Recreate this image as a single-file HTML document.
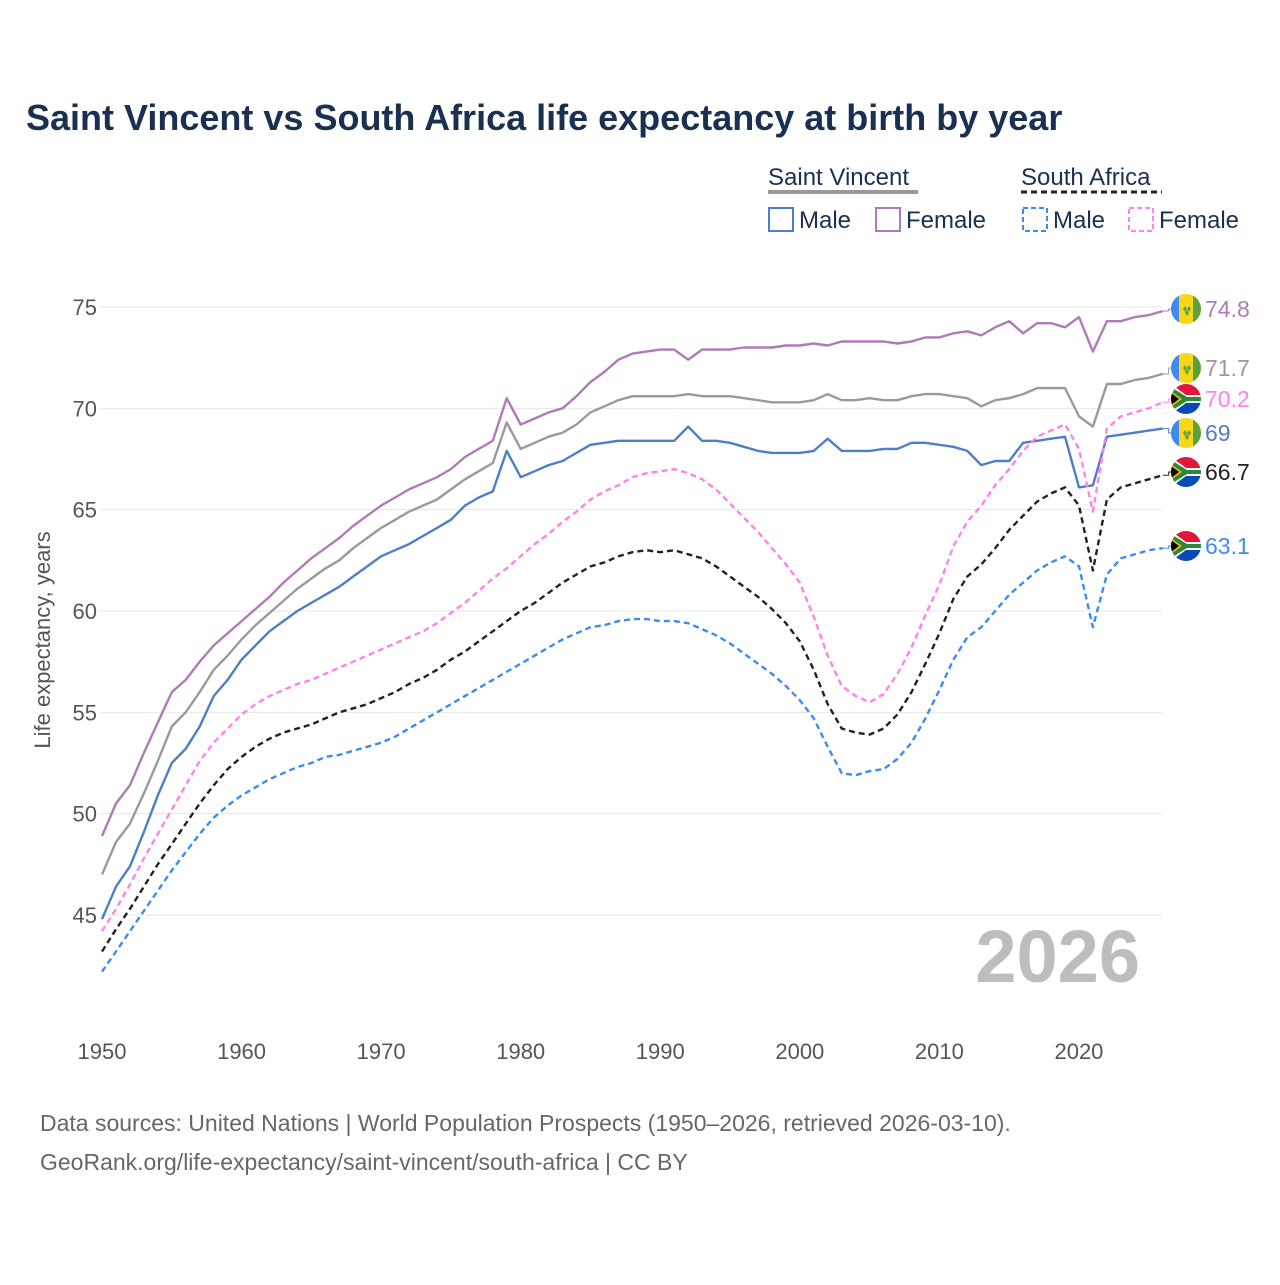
<!DOCTYPE html>
<html><head><meta charset="utf-8"><style>
body{margin:0;background:#fff;}
svg text{font-family:"Liberation Sans",sans-serif;}
</style></head><body>
<svg id="chart" width="1280" height="1280" viewBox="0 0 1280 1280" xmlns="http://www.w3.org/2000/svg">
<defs>
<clipPath id="fc"><circle cx="0" cy="0" r="15"/></clipPath>
<g id="flag-vc">
<g clip-path="url(#fc)"><rect x="-15" y="-15" width="30" height="30" fill="#f9d616"/><rect x="-15" y="-15" width="8" height="30" fill="#3c8cf0"/><rect x="7" y="-15" width="8" height="30" fill="#5aa33c"/><path d="M-3 0 l2-3 2 3-2 3z M1 0 l2-3 2 3-2 3z M-1 4 l2-3 2 3-2 3z" fill="#5aa33c"/></g>
</g>
<g id="flag-za">
<g clip-path="url(#fc)"><rect x="-15" y="-15" width="30" height="15" fill="#e0183c"/><rect x="-15" y="0" width="30" height="15" fill="#0a4ab4"/><path d="M-15 -15 L0 -4 H15 V4 H0 L-15 15Z" fill="#fff"/><path d="M-15 -12 L1 -2 H15 V2 H1 L-15 12Z" fill="#2a8a3a"/><path d="M-15 -8 L-4 0 L-15 8Z" fill="#f2b61a"/><path d="M-15 -6 L-7 0 L-15 6Z" fill="#000"/></g>
</g>
</defs>
<text x="26" y="130" font-size="36" font-weight="bold" fill="#1a3050">Saint Vincent vs South Africa life expectancy at birth by year</text>
<g font-size="24" fill="#1a3050">
<text x="768" y="185" fill="#1a3050">Saint Vincent</text>
<line x1="768" y1="192" x2="918" y2="192" stroke="#999" stroke-width="4"/>
<text x="1021" y="185" fill="#1a3050">South Africa</text>
<line x1="1021" y1="192" x2="1162" y2="192" stroke="#222" stroke-width="3" stroke-dasharray="6,4"/>
<g><rect x="769" y="208" width="24" height="23" fill="none" stroke="#4f7ec8" stroke-width="2"/><text x="799" y="228" fill="#1a3050">Male</text></g>
<g><rect x="876" y="208" width="24" height="23" fill="none" stroke="#b07ab8" stroke-width="2"/><text x="906" y="228" fill="#1a3050">Female</text></g>
<g><rect x="1023" y="208" width="24" height="23" fill="none" stroke="#3c8cf0" stroke-width="2" stroke-dasharray="5,3"/><text x="1053" y="228" fill="#1a3050">Male</text></g>
<g><rect x="1129" y="208" width="24" height="23" fill="none" stroke="#ff80f0" stroke-width="2" stroke-dasharray="5,3"/><text x="1159" y="228" fill="#1a3050">Female</text></g>
</g>
<g id="grid"></g>
<g id="axes"></g>
<text transform="translate(50,640) rotate(-90)" text-anchor="middle" font-size="22" fill="#555">Life expectancy, years</text>
<text x="1140" y="982" text-anchor="end" font-size="74" font-weight="bold" fill="#bdbdbd">2026</text>
<g id="series"></g>
<g id="labels"></g>
<text x="40" y="1131" font-size="23" fill="#666">Data sources: United Nations | World Population Prospects (1950–2026, retrieved 2026-03-10).</text>
<text x="40" y="1170" font-size="23" fill="#666">GeoRank.org/life-expectancy/saint-vincent/south-africa | CC BY</text>
</svg>
<script>
const startYear = 1950;
const xTicks = [1950,1960,1970,1980,1990,2000,2010,2020];
const yTicks = [45,50,55,60,65,70,75];
const svFemale = [48.9,50.5,51.4,53.0,54.5,56.0,56.6,57.5,58.3,58.9,59.5,60.1,60.7,61.4,62.0,62.6,63.1,63.6,64.2,64.7,65.2,65.6,66.0,66.3,66.6,67.0,67.6,68.0,68.4,70.5,69.2,69.5,69.8,70.0,70.6,71.3,71.8,72.4,72.7,72.8,72.9,72.9,72.4,72.9,72.9,72.9,73.0,73.0,73.0,73.1,73.1,73.2,73.1,73.3,73.3,73.3,73.3,73.2,73.3,73.5,73.5,73.7,73.8,73.6,74.0,74.3,73.7,74.2,74.2,74.0,74.5,72.8,74.3,74.3,74.5,74.6,74.8];
const svTotal = [47.0,48.6,49.5,51.0,52.6,54.3,55.0,56.0,57.1,57.8,58.6,59.3,59.9,60.5,61.1,61.6,62.1,62.5,63.1,63.6,64.1,64.5,64.9,65.2,65.5,66.0,66.5,66.9,67.3,69.3,68.0,68.3,68.6,68.8,69.2,69.8,70.1,70.4,70.6,70.6,70.6,70.6,70.7,70.6,70.6,70.6,70.5,70.4,70.3,70.3,70.3,70.4,70.7,70.4,70.4,70.5,70.4,70.4,70.6,70.7,70.7,70.6,70.5,70.1,70.4,70.5,70.7,71.0,71.0,71.0,69.6,69.1,71.2,71.2,71.4,71.5,71.7];
const svMale = [44.8,46.4,47.4,49.1,50.9,52.5,53.2,54.3,55.8,56.6,57.6,58.3,59.0,59.5,60.0,60.4,60.8,61.2,61.7,62.2,62.7,63.0,63.3,63.7,64.1,64.5,65.2,65.6,65.9,67.9,66.6,66.9,67.2,67.4,67.8,68.2,68.3,68.4,68.4,68.4,68.4,68.4,69.1,68.4,68.4,68.3,68.1,67.9,67.8,67.8,67.8,67.9,68.5,67.9,67.9,67.9,68.0,68.0,68.3,68.3,68.2,68.1,67.9,67.2,67.4,67.4,68.3,68.4,68.5,68.6,66.1,66.2,68.6,68.7,68.8,68.9,69.0];
const zaFemale = [44.2,45.3,46.5,47.8,49.0,50.2,51.4,52.6,53.5,54.2,54.9,55.4,55.8,56.1,56.4,56.6,56.9,57.2,57.5,57.8,58.1,58.4,58.7,59.0,59.4,59.9,60.4,61.0,61.6,62.1,62.7,63.3,63.8,64.4,64.9,65.5,65.9,66.2,66.6,66.8,66.9,67.0,66.8,66.5,66.0,65.3,64.6,63.9,63.1,62.3,61.4,59.7,57.8,56.3,55.8,55.5,55.9,56.9,58.2,59.8,61.3,63.2,64.4,65.2,66.2,67.0,67.9,68.6,68.9,69.2,68.0,64.9,69.0,69.6,69.8,70.0,70.3];
const zaTotal = [43.2,44.3,45.3,46.4,47.5,48.5,49.5,50.5,51.4,52.2,52.8,53.3,53.7,54.0,54.2,54.4,54.7,55.0,55.2,55.4,55.7,56.0,56.4,56.7,57.1,57.6,58.0,58.5,59.0,59.5,60.0,60.4,60.9,61.4,61.8,62.2,62.4,62.7,62.9,63.0,62.9,63.0,62.8,62.6,62.2,61.7,61.2,60.7,60.1,59.4,58.5,57.1,55.4,54.2,54.0,53.9,54.2,54.9,56.0,57.4,58.9,60.6,61.7,62.3,63.1,64.0,64.7,65.4,65.8,66.1,65.2,62.0,65.5,66.1,66.3,66.5,66.7];
const zaMale = [42.2,43.2,44.2,45.2,46.2,47.2,48.1,49.0,49.8,50.4,50.9,51.3,51.7,52.0,52.3,52.5,52.8,52.9,53.1,53.3,53.5,53.8,54.2,54.6,55.0,55.4,55.8,56.2,56.6,57.0,57.4,57.8,58.2,58.6,58.9,59.2,59.3,59.5,59.6,59.6,59.5,59.5,59.4,59.1,58.8,58.4,57.9,57.4,56.9,56.3,55.6,54.7,53.3,52.0,51.9,52.1,52.2,52.7,53.5,54.7,56.1,57.6,58.7,59.2,60.0,60.8,61.4,62.0,62.4,62.7,62.2,59.2,61.8,62.6,62.8,63.0,63.1];
const endLabels = ["74.8","71.7","69","70.2","66.7","63.1"];

const NS="http://www.w3.org/2000/svg";
const x = yr => 102 + (yr-1950)*(1060.7/76);
const y = v => 307 + (75-v)*(608/30);
function mk(tag, attrs, parent){const e=document.createElementNS(NS,tag);for(const k in attrs)e.setAttribute(k,attrs[k]);parent.appendChild(e);return e;}
const grid=document.getElementById('grid'), axes=document.getElementById('axes');
yTicks.forEach(t=>{
  const l=mk('line',{x1:100,x2:1162,y1:y(t),y2:y(t),stroke:'#e6e6e6','stroke-width':1},grid);
  
  
  const tx=mk('text',{x:97,y:y(t)+8,'text-anchor':'end','font-size':22,fill:'#555'},axes);
  tx.textContent=t;
  
  
});
xTicks.forEach(t=>{
  const tx=mk('text',{x:x(t),y:1059,'text-anchor':'middle','font-size':22,fill:'#555'},axes);
  tx.textContent=t;
  
  
});
const series=[
 {d:svFemale,c:'#b07ab8',dash:null,n:'sv-female',flag:'vc',lab:0,lc:'#b07ab8'},
 {d:svTotal,c:'#9a9a9a',dash:null,n:'sv-total',flag:'vc',lab:1,lc:'#999'},
 {d:svMale,c:'#4f7ec8',dash:null,n:'sv-male',flag:'vc',lab:2,lc:'#4f7ec8'},
 {d:zaFemale,c:'#ff80f0',dash:'6,4',n:'za-female',flag:'za',lab:3,lc:'#ff80f0'},
 {d:zaTotal,c:'#222',dash:'6,4',n:'za-total',flag:'za',lab:4,lc:'#222'},
 {d:zaMale,c:'#3c8cf0',dash:'6,4',n:'za-male',flag:'za',lab:5,lc:'#3c8cf0'}
];
const sg=document.getElementById('series'), lg=document.getElementById('labels');
const labelY=[309,368,433,399,472,546];
series.forEach(s=>{
  const pts=s.d.map((v,i)=>x(startYear+i).toFixed(1)+','+y(v).toFixed(1)).join(' ');
  const a={points:pts,fill:'none',stroke:s.c,'stroke-width':2.4,'stroke-linejoin':'round'};
  if(s.dash)a['stroke-dasharray']=s.dash;
  const p=mk('polyline',a,sg);
  
  
  const last=s.d[s.d.length-1], lx=x(startYear+s.d.length-1);
  const ly=labelY[s.lab];
  mk('polyline',{points:`${lx},${y(last)} ${lx+6},${y(last)} ${lx+6},${ly} ${1172},${ly}`,fill:'none',stroke:s.c,'stroke-width':1},lg);
  const u=mk('use',{href:'#flag-'+s.flag,x:1186,y:ly},lg);
  
  
  const t=mk('text',{x:1205,y:ly+8,'font-size':23,fill:s.lc},lg);
  t.textContent=endLabels[s.lab];
  
  
});
</script>
</body></html>
